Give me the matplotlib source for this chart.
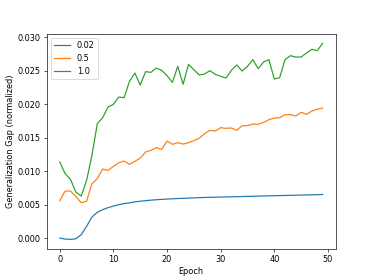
import matplotlib
matplotlib.use("Agg")
import matplotlib.pyplot as plt
import numpy as np

epochs = list(range(50))
labels = ["0.02", "0.5", "1.0"]

gap_002 = [0.0000, -0.00015, -0.0002, -0.0001, 0.0005, 0.00175, 0.00314, 0.00384, 0.00424, 0.00454,
           0.00478, 0.00498, 0.00515, 0.00526, 0.00540, 0.00550, 0.00558, 0.00566, 0.00572, 0.00577,
           0.00582, 0.00586, 0.00590, 0.00594, 0.00597, 0.00600, 0.00603, 0.00606, 0.00608, 0.00610,
           0.00612, 0.00614, 0.00616, 0.00618, 0.00620, 0.00622, 0.00624, 0.00626, 0.00628, 0.00630,
           0.00632, 0.00634, 0.00636, 0.00638, 0.00640, 0.00642, 0.00644, 0.00646, 0.00648, 0.00650]

gap_05 = [0.00558, 0.00702, 0.00702, 0.00623, 0.00528, 0.00548, 0.00812, 0.00887, 0.01030, 0.01011,
          0.01070, 0.01125, 0.01150, 0.01100, 0.01145, 0.01194, 0.01284, 0.01309, 0.01350, 0.01324,
          0.01448, 0.01399, 0.01424, 0.01403, 0.01424, 0.01454, 0.01490, 0.01559, 0.01608, 0.01598,
          0.01648, 0.01638, 0.01643, 0.01608, 0.01678, 0.01678, 0.01702, 0.01697, 0.01727, 0.01767,
          0.01792, 0.01797, 0.01842, 0.01842, 0.01822, 0.01877, 0.01847, 0.01897, 0.01922, 0.01941]

gap_10 = [0.01135, 0.00962, 0.00876, 0.00687, 0.00627, 0.00861, 0.01235, 0.01708, 0.01797, 0.01956,
          0.01996, 0.02105, 0.02096, 0.02340, 0.02464, 0.02285, 0.02484, 0.02474, 0.02538, 0.02504,
          0.02425, 0.02325, 0.02564, 0.02295, 0.02593, 0.02514, 0.02434, 0.02449, 0.02499, 0.02444,
          0.02414, 0.02389, 0.02504, 0.02583, 0.02493, 0.02563, 0.02663, 0.02529, 0.02628, 0.02663,
          0.02374, 0.02394, 0.02663, 0.02723, 0.02702, 0.02702, 0.02762, 0.02817, 0.02797, 0.02906]

dpi = 58.3
fig, ax = plt.subplots(figsize=(373 / dpi, 280 / dpi), dpi=dpi)
ax.plot(epochs, gap_002, label=labels[0])
ax.plot(epochs, gap_05, label=labels[1])
ax.plot(epochs, gap_10, label=labels[2])
ax.set_xlabel("Epoch")
ax.set_ylabel("Generalization Gap (normalized)")
ax.legend(loc="upper left")
fig.savefig("out.png", dpi=dpi)
